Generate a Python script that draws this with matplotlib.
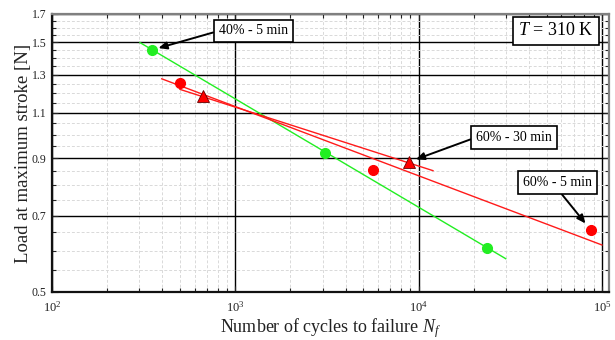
import numpy as np
import matplotlib
matplotlib.use("Agg")
import matplotlib.pyplot as plt
from matplotlib.ticker import FixedLocator, FixedFormatter, LogLocator, LogFormatterMathtext, NullFormatter

plt.rcParams['font.family'] = ['Liberation Serif', 'DejaVu Serif']
plt.rcParams['mathtext.fontset'] = 'custom'
plt.rcParams['mathtext.rm'] = 'Liberation Serif'
plt.rcParams['mathtext.it'] = 'Liberation Serif:italic'

# ---- data ----
green_x = [350, 3085, 23700]          # 40% - 5 min
green_y = [1.451, 0.922, 0.606]
red5_x = [500, 5620, 86900]           # 60% - 5 min
red5_y = [1.256, 0.856, 0.657]
red30_x = [664, 8900]                 # 60% - 30 min
red30_y = [1.183, 0.887]

green_fit_x = [302, 29860]
green_fit_y = [1.499, 0.579]
red5_fit_x = [397, 100000]
red5_fit_y = [1.278, 0.615]
red30_fit_x = [499, 11980]
red30_fit_y = [1.220, 0.853]

y_ticks = [0.5, 0.7, 0.9, 1.1, 1.3, 1.5, 1.7]
y_tick_labels = ["0.5", "0.7", "0.9", "1.1", "1.3", "1.5", "1.7"]

fig = plt.figure(figsize=(6.15, 3.4), dpi=100)
ax = fig.add_axes([52/615, 48/340, 557/615, 278/340])

ax.set_xscale('log')
ax.set_yscale('log')
ax.set_xlim(100, 1.093e5)
ax.set_ylim(0.5, 1.7)

# grid
ax.set_axisbelow(True)
ax.xaxis.set_major_locator(LogLocator(base=10, numticks=10))
ax.xaxis.set_minor_locator(LogLocator(base=10, subs=np.arange(2, 10), numticks=20))
ax.xaxis.set_major_formatter(LogFormatterMathtext())
ax.xaxis.set_minor_formatter(NullFormatter())
ax.yaxis.set_major_locator(FixedLocator(y_ticks))
ax.yaxis.set_major_formatter(FixedFormatter(y_tick_labels))
minor_y = [v for v in np.round(np.arange(0.5, 1.71, 0.05), 2) if v not in y_ticks]
ax.yaxis.set_minor_locator(FixedLocator(minor_y))
ax.yaxis.set_minor_formatter(NullFormatter())

ax.grid(which='minor', color='#d9d9d9', linestyle=(0, (3, 2)), linewidth=0.7)
ax.grid(which='major', color='black', linestyle='-', linewidth=1.0)

ax.tick_params(which='both', direction='in', top=True, right=True, colors='#222222')
ax.tick_params(axis='y', labelsize=8.5, pad=4)
ax.tick_params(axis='x', labelsize=9, pad=6)
ax.tick_params(which='major', length=4, width=0.8)
ax.tick_params(which='minor', length=3, width=0.8)

for s in ['left', 'bottom']:
    ax.spines[s].set_color('#111111')
    ax.spines[s].set_linewidth(1.6)
for s in ['top', 'right']:
    ax.spines[s].set_color('#808080')
    ax.spines[s].set_linewidth(1.6)

# fit lines
ax.plot(green_fit_x, green_fit_y, color='#22ee22', lw=1.0, zorder=3)
ax.plot(red5_fit_x, red5_fit_y, color='#ff1a1a', lw=1.0, zorder=3)
ax.plot(red30_fit_x, red30_fit_y, color='#ff1a1a', lw=1.0, zorder=3)

# markers
ax.plot(green_x, green_y, 'o', color='#22ee22', ms=7, mec='#22ee22', zorder=4)
ax.plot(red5_x, red5_y, 'o', color='#ff0000', ms=7, mec='#ff0000', zorder=4)
ax.plot(red30_x, red30_y, '^', color='#ff0000', ms=8, mec='#660000', mew=0.6, zorder=4)

bbox = dict(boxstyle='square,pad=0.35', fc='white', ec='black', lw=1.2)
arrow_l = dict(arrowstyle='-|>,head_length=0.5,head_width=0.22', color='black', lw=1.4,
               shrinkA=0, shrinkB=5, relpos=(0, 0.5))
arrow_b = dict(arrowstyle='-|>,head_length=0.5,head_width=0.22', color='black', lw=1.4,
               shrinkA=0, shrinkB=6, relpos=(0.5, 0))

ax.annotate('40% - 5 min', xy=(green_x[0], green_y[0]), xytext=(0.361, 0.939),
            textcoords='axes fraction', ha='center', va='center', fontsize=10,
            bbox=bbox, arrowprops=arrow_l, zorder=6)
ax.annotate('60% - 30 min', xy=(red30_x[1], red30_y[1]), xytext=(0.829, 0.556),
            textcoords='axes fraction', ha='center', va='center', fontsize=10,
            bbox=bbox, arrowprops=arrow_l, zorder=6)
ax.annotate('60% - 5 min', xy=(red5_x[2], red5_y[2]), xytext=(0.9076, 0.394),
            textcoords='axes fraction', ha='center', va='center', fontsize=10,
            bbox=bbox, arrowprops=arrow_b, zorder=6)

ax.text(0.905, 0.940, '$T$ = 310 K', transform=ax.transAxes, ha='center', va='center',
        fontsize=13, bbox=dict(boxstyle='square,pad=0.3', fc='white', ec='black', lw=1.2),
        zorder=6)

ax.set_xlabel('Number of cycles to failure $N_f$', fontsize=13, color='#222222', labelpad=1)
ax.set_ylabel('Load at maximum stroke [N]', fontsize=13.5, color='#222222', labelpad=0)

fig.savefig('out.png', dpi=100)
